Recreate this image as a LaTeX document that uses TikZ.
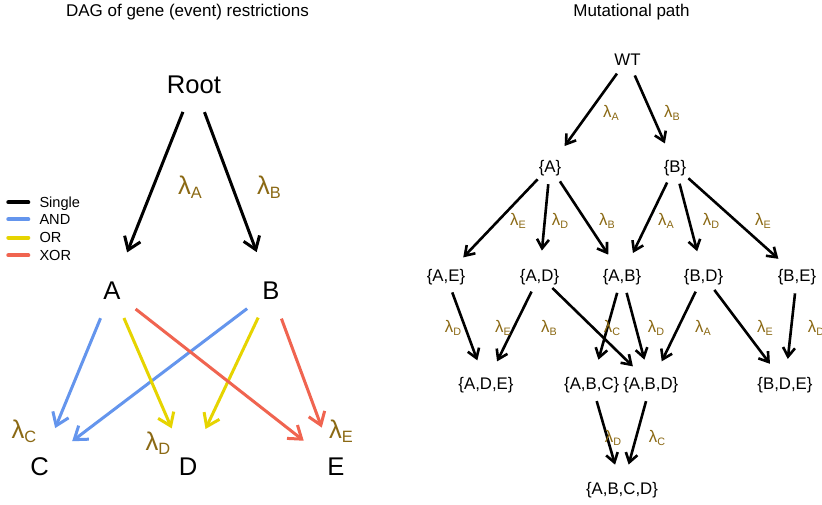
\documentclass[tikz,border=0pt]{standalone}
\usepackage{fontspec}
\setmainfont{Liberation Sans}
\usetikzlibrary{arrows.meta}
\newcommand{\lamsub}[1]{λ\raisebox{-0.17em}{\scalebox{0.64}{#1}}}
\tikzset{
  dagNode/.style={inner sep=0pt,outer sep=0pt,text height=18.4pt,text depth=0pt,font=\fontsize{25.6}{30}\selectfont},
  dagRate/.style={text=rateColor,inner sep=0pt,outer sep=0pt,font=\fontsize{25.6}{30}\selectfont},
  pathNode/.style={inner sep=0pt,outer sep=0pt,text height=12.1pt,text depth=0pt,font=\fontsize{16.8}{20}\selectfont},
  pathRate/.style={text=rateColor,inner sep=0pt,outer sep=0pt,font=\fontsize{16.8}{20}\selectfont},
  dagEdge/.style={line width=3pt,shorten <=30pt,shorten >=41pt,-{Straight Barb[length=12pt,width=17pt]}},
  pathEdge/.style={draw=black,line width=2.6pt,shorten <=18pt,shorten >=25pt,-{Straight Barb[length=9pt,width=12pt]}},
  keyLine/.style={line width=4pt,line cap=round},
}
\begin{document}
\begin{tikzpicture}[x=1pt,y=1pt]
\definecolor{fillColor}{RGB}{255,255,255}
\definecolor{rateColor}{RGB}{139,105,20}
\definecolor{andColor}{RGB}{100,149,237}
\definecolor{orColor}{RGB}{230,212,0}
\definecolor{xorColor}{RGB}{240,100,80}
\path[use as bounding box,fill=fillColor] (0,0) rectangle (822,504);
\begin{scope}
\node[anchor=base,inner sep=0pt,outer sep=0pt,font=\fontsize{17}{20}\selectfont] (titleDag) at (187.5,487.3) {DAG of gene (event) restrictions};

\path[draw=black,keyLine] (8.3,301.7) -- (28.3,301.7);
\path[draw=andColor,keyLine] (8.3,284.7) -- (28.3,284.7);
\path[draw=orColor,keyLine] (8.3,266.3) -- (28.3,266.3);
\path[draw=xorColor,keyLine] (8.3,248.7) -- (28.3,248.7);
\node[anchor=base west,inner sep=0pt,font=\fontsize{14.6}{17}\selectfont] (keySingle) at (39.3,296.5) {Single};
\node[anchor=base west,inner sep=0pt,font=\fontsize{14.6}{17}\selectfont] (keyAnd) at (39.3,279.5) {AND};
\node[anchor=base west,inner sep=0pt,font=\fontsize{14.6}{17}\selectfont] (keyOr) at (39.3,261.1) {OR};
\node[anchor=base west,inner sep=0pt,font=\fontsize{14.6}{17}\selectfont] (keyXor) at (39.3,243.5) {XOR};

\node[dagNode] (Root) at (194,420) {Root};
\node[dagNode] (A) at (112,213.5) {A};
\node[dagNode] (B) at (271,213.5) {B};
\node[dagNode] (C) at (39.5,38) {C};
\node[dagNode] (D) at (188,38) {D};
\node[dagNode] (E) at (336,38) {E};

\path[draw=black,dagEdge] (Root.center) -- (A.center);
\path[draw=black,dagEdge] (Root.center) -- (B.center);
\path[draw=andColor,dagEdge] (A.center) -- (C.center);
\path[draw=andColor,dagEdge] (B.center) -- (C.center);
\path[draw=orColor,dagEdge] (A.center) -- (D.center);
\path[draw=orColor,dagEdge] (B.center) -- (D.center);
\path[draw=xorColor,dagEdge] (A.center) -- (E.center);
\path[draw=xorColor,dagEdge] (B.center) -- (E.center);

\node[dagRate] (rateRA) at (190,317) {\lamsub{A}};
\node[dagRate] (rateRB) at (269,317) {\lamsub{B}};
\node[dagRate] (rateC) at (24,73) {\lamsub{C}};
\node[dagRate] (rateD) at (158,61) {\lamsub{D}};
\node[dagRate] (rateE) at (341,73) {\lamsub{E}};
\end{scope}
\begin{scope}
\node[anchor=base,inner sep=0pt,outer sep=0pt,font=\fontsize{17}{20}\selectfont] (titlePath) at (631.5,487.3) {Mutational path};

\node[pathNode] (WT) at (627.5,445) {WT};
\node[pathNode] (sA) at (550,337.7) {\{A\}};
\node[pathNode] (sB) at (675,337.7) {\{B\}};
\node[pathNode] (sAE) at (446,228.5) {\{A,E\}};
\node[pathNode] (sAD) at (539.5,228.5) {\{A,D\}};
\node[pathNode] (sAB) at (622,228.5) {\{A,B\}};
\node[pathNode] (sBD) at (703.5,228.5) {\{B,D\}};
\node[pathNode] (sBE) at (797,228.5) {\{B,E\}};
\node[pathNode] (sADE) at (486,120.2) {\{A,D,E\}};
\node[pathNode] (sABC) at (591.7,120.2) {\{A,B,C\}};
\node[pathNode] (sABD) at (650.8,120.2) {\{A,B,D\}};
\node[pathNode] (sBDE) at (785,120.2) {\{B,D,E\}};
\node[pathNode] (sABCD) at (622,15.3) {\{A,B,C,D\}};

\path[pathEdge] (WT.center) -- (sA.center);
\path[pathEdge] (WT.center) -- (sB.center);
\path[pathEdge] (sA.center) -- (sAE.center);
\path[pathEdge] (sA.center) -- (sAD.center);
\path[pathEdge] (sA.center) -- (sAB.center);
\path[pathEdge] (sB.center) -- (sAB.center);
\path[pathEdge] (sB.center) -- (sBD.center);
\path[pathEdge] (sB.center) -- (sBE.center);
\path[pathEdge] (sAE.center) -- (sADE.center);
\path[pathEdge] (sAD.center) -- (sADE.center);
\path[pathEdge] (sAD.center) -- (sABD.center);
\path[pathEdge] (sAB.center) -- (sABC.center);
\path[pathEdge] (sAB.center) -- (sABD.center);
\path[pathEdge] (sBD.center) -- (sABD.center);
\path[pathEdge] (sBD.center) -- (sBDE.center);
\path[pathEdge] (sBE.center) -- (sBDE.center);
\path[pathEdge] (sABC.center) -- (sABCD.center);
\path[pathEdge] (sABD.center) -- (sABCD.center);

\node[pathRate] (rWA) at (611,391) {\lamsub{A}};
\node[pathRate] (rWB) at (672,391) {\lamsub{B}};
\node[pathRate] (rAE) at (518,283) {\lamsub{E}};
\node[pathRate] (rAD) at (560,283) {\lamsub{D}};
\node[pathRate] (rAB) at (607,283) {\lamsub{B}};
\node[pathRate] (rBA) at (666,283) {\lamsub{A}};
\node[pathRate] (rBD) at (711,283) {\lamsub{D}};
\node[pathRate] (rBE) at (763,283) {\lamsub{E}};
\node[pathRate] (rAED) at (453,176) {\lamsub{D}};
\node[pathRate] (rADE) at (503,176) {\lamsub{E}};
\node[pathRate] (rADB) at (549,176) {\lamsub{B}};
\node[pathRate] (rABC) at (612,176) {\lamsub{C}};
\node[pathRate] (rABD) at (656,176) {\lamsub{D}};
\node[pathRate] (rBDA) at (703,176) {\lamsub{A}};
\node[pathRate] (rBDE) at (765,176) {\lamsub{E}};
\node[pathRate] (rBED) at (816,176) {\lamsub{D}};
\node[pathRate] (rABCD) at (613,66) {\lamsub{D}};
\node[pathRate] (rABDC) at (657,66) {\lamsub{C}};
\end{scope}
\end{tikzpicture}
\end{document}
